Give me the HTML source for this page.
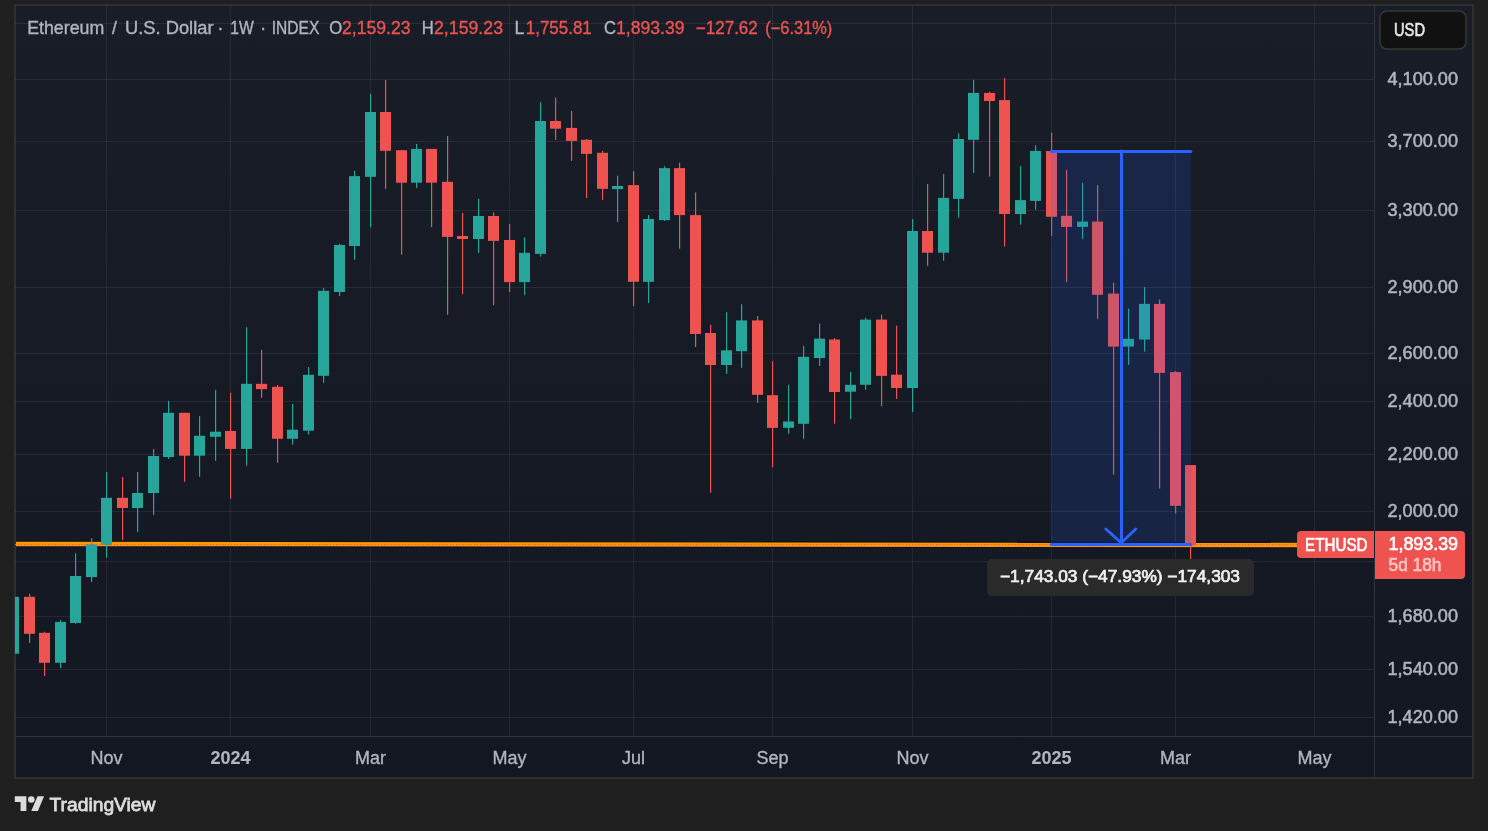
<!DOCTYPE html>
<html><head><meta charset="utf-8"><style>
html,body{margin:0;padding:0;background:#1f1f1f;width:1488px;height:831px;overflow:hidden}
svg{display:block;will-change:transform}
</style></head><body>
<svg width="1488" height="831" viewBox="0 0 1488 831">
<rect x="0" y="0" width="1488" height="831" fill="#1f1f1f"/>
<rect x="14" y="4" width="1460" height="775" fill="#2f2f2f"/>
<linearGradient id="bgg" x1="0" y1="0" x2="0" y2="1"><stop offset="0" stop-color="#191d28"/><stop offset="1" stop-color="#131722"/></linearGradient>
<rect x="16" y="6" width="1456" height="771" fill="url(#bgg)"/>
<rect x="15" y="23" width="1359" height="1" fill="#ffffff" fill-opacity="0.065"/>
<rect x="15" y="79" width="1359" height="1" fill="#ffffff" fill-opacity="0.065"/>
<rect x="15" y="141" width="1359" height="1" fill="#ffffff" fill-opacity="0.065"/>
<rect x="15" y="210" width="1359" height="1" fill="#ffffff" fill-opacity="0.065"/>
<rect x="15" y="287" width="1359" height="1" fill="#ffffff" fill-opacity="0.065"/>
<rect x="15" y="353" width="1359" height="1" fill="#ffffff" fill-opacity="0.065"/>
<rect x="15" y="401" width="1359" height="1" fill="#ffffff" fill-opacity="0.065"/>
<rect x="15" y="454" width="1359" height="1" fill="#ffffff" fill-opacity="0.065"/>
<rect x="15" y="511" width="1359" height="1" fill="#ffffff" fill-opacity="0.065"/>
<rect x="15" y="561" width="1359" height="1" fill="#ffffff" fill-opacity="0.065"/>
<rect x="15" y="616" width="1359" height="1" fill="#ffffff" fill-opacity="0.065"/>
<rect x="15" y="669" width="1359" height="1" fill="#ffffff" fill-opacity="0.065"/>
<rect x="15" y="717" width="1359" height="1" fill="#ffffff" fill-opacity="0.065"/>
<rect x="106" y="6" width="1" height="730" fill="#ffffff" fill-opacity="0.065"/>
<rect x="230" y="6" width="1" height="730" fill="#ffffff" fill-opacity="0.065"/>
<rect x="370" y="6" width="1" height="730" fill="#ffffff" fill-opacity="0.065"/>
<rect x="509" y="6" width="1" height="730" fill="#ffffff" fill-opacity="0.065"/>
<rect x="633" y="6" width="1" height="730" fill="#ffffff" fill-opacity="0.065"/>
<rect x="772" y="6" width="1" height="730" fill="#ffffff" fill-opacity="0.065"/>
<rect x="912" y="6" width="1" height="730" fill="#ffffff" fill-opacity="0.065"/>
<rect x="1051" y="6" width="1" height="730" fill="#ffffff" fill-opacity="0.065"/>
<rect x="1175" y="6" width="1" height="730" fill="#ffffff" fill-opacity="0.065"/>
<rect x="1314" y="6" width="1" height="730" fill="#ffffff" fill-opacity="0.065"/>
<rect x="1374" y="6" width="1" height="771" fill="#30333b"/>
<rect x="16" y="736" width="1456" height="1" fill="#30333b"/>
<line x1="16" y1="544.0" x2="1374" y2="545.1" stroke="#0b1222" stroke-width="6.5"/>
<line x1="16" y1="544.0" x2="1374" y2="545.1" stroke="#ff9800" stroke-width="4.3"/>
<clipPath id="pc"><rect x="15" y="6" width="1359" height="730"/></clipPath>
<g clip-path="url(#pc)">
<rect x="13" y="596.8" width="1.2" height="56.9" fill="#26a69a"/>
<rect x="8" y="596.8" width="11" height="56.9" fill="#26a69a"/>
<rect x="29" y="593.8" width="1.2" height="49.1" fill="#ef5350"/>
<rect x="24" y="596.8" width="11" height="37.0" fill="#ef5350"/>
<rect x="44" y="631.8" width="1.2" height="44.2" fill="#ef5350"/>
<rect x="39" y="632.8" width="11" height="30.0" fill="#ef5350"/>
<rect x="60" y="619.8" width="1.2" height="48.3" fill="#26a69a"/>
<rect x="55" y="621.9" width="11" height="40.9" fill="#26a69a"/>
<rect x="75" y="553.3" width="1.2" height="70.5" fill="#26a69a"/>
<rect x="70" y="576.0" width="11" height="47.0" fill="#26a69a"/>
<rect x="91" y="538.2" width="1.2" height="43.9" fill="#26a69a"/>
<rect x="86" y="544.4" width="11" height="32.7" fill="#26a69a"/>
<rect x="106" y="472.0" width="1.2" height="85.9" fill="#26a69a"/>
<rect x="101" y="497.8" width="11" height="47.2" fill="#26a69a"/>
<rect x="122" y="477.0" width="1.2" height="63.2" fill="#ef5350"/>
<rect x="117" y="497.8" width="11" height="10.2" fill="#ef5350"/>
<rect x="137" y="472.0" width="1.2" height="60.0" fill="#26a69a"/>
<rect x="132" y="493.0" width="11" height="15.0" fill="#26a69a"/>
<rect x="153" y="449.0" width="1.2" height="66.1" fill="#26a69a"/>
<rect x="148" y="456.0" width="11" height="37.0" fill="#26a69a"/>
<rect x="168" y="400.9" width="1.2" height="58.0" fill="#26a69a"/>
<rect x="163" y="412.8" width="11" height="44.2" fill="#26a69a"/>
<rect x="184" y="412.8" width="1.2" height="69.0" fill="#ef5350"/>
<rect x="179" y="412.8" width="11" height="42.9" fill="#ef5350"/>
<rect x="199" y="416.1" width="1.2" height="60.6" fill="#26a69a"/>
<rect x="194" y="435.8" width="11" height="19.9" fill="#26a69a"/>
<rect x="215" y="390.1" width="1.2" height="70.7" fill="#26a69a"/>
<rect x="210" y="431.7" width="11" height="5.1" fill="#26a69a"/>
<rect x="230" y="392.8" width="1.2" height="105.9" fill="#ef5350"/>
<rect x="225" y="431.0" width="11" height="17.9" fill="#ef5350"/>
<rect x="246" y="327.2" width="1.2" height="138.6" fill="#26a69a"/>
<rect x="241" y="383.8" width="11" height="65.1" fill="#26a69a"/>
<rect x="261" y="349.9" width="1.2" height="48.0" fill="#ef5350"/>
<rect x="256" y="383.8" width="11" height="5.3" fill="#ef5350"/>
<rect x="277" y="385.0" width="1.2" height="77.8" fill="#ef5350"/>
<rect x="272" y="386.8" width="11" height="52.0" fill="#ef5350"/>
<rect x="292" y="404.0" width="1.2" height="40.6" fill="#26a69a"/>
<rect x="287" y="429.7" width="11" height="9.1" fill="#26a69a"/>
<rect x="308" y="366.9" width="1.2" height="67.6" fill="#26a69a"/>
<rect x="303" y="374.8" width="11" height="55.9" fill="#26a69a"/>
<rect x="323" y="288.0" width="1.2" height="94.8" fill="#26a69a"/>
<rect x="318" y="290.8" width="11" height="85.0" fill="#26a69a"/>
<rect x="339" y="243.8" width="1.2" height="52.2" fill="#26a69a"/>
<rect x="334" y="245.0" width="11" height="47.0" fill="#26a69a"/>
<rect x="354" y="170.8" width="1.2" height="88.9" fill="#26a69a"/>
<rect x="349" y="176.1" width="11" height="69.9" fill="#26a69a"/>
<rect x="370" y="93.8" width="1.2" height="133.4" fill="#26a69a"/>
<rect x="365" y="112.0" width="11" height="64.8" fill="#26a69a"/>
<rect x="385" y="80.0" width="1.2" height="109.0" fill="#ef5350"/>
<rect x="380" y="112.0" width="11" height="38.8" fill="#ef5350"/>
<rect x="401" y="150.2" width="1.2" height="104.5" fill="#ef5350"/>
<rect x="396" y="150.2" width="11" height="32.5" fill="#ef5350"/>
<rect x="416" y="143.9" width="1.2" height="44.1" fill="#26a69a"/>
<rect x="411" y="148.9" width="11" height="33.8" fill="#26a69a"/>
<rect x="431" y="148.9" width="1.2" height="78.3" fill="#ef5350"/>
<rect x="426" y="148.9" width="11" height="33.8" fill="#ef5350"/>
<rect x="447" y="136.0" width="1.2" height="178.8" fill="#ef5350"/>
<rect x="442" y="181.8" width="11" height="55.1" fill="#ef5350"/>
<rect x="462" y="213.0" width="1.2" height="81.2" fill="#ef5350"/>
<rect x="457" y="236.0" width="11" height="3.0" fill="#ef5350"/>
<rect x="478" y="198.8" width="1.2" height="54.2" fill="#26a69a"/>
<rect x="473" y="216.0" width="11" height="23.0" fill="#26a69a"/>
<rect x="493" y="212.4" width="1.2" height="92.7" fill="#ef5350"/>
<rect x="488" y="216.0" width="11" height="24.9" fill="#ef5350"/>
<rect x="509" y="224.0" width="1.2" height="68.1" fill="#ef5350"/>
<rect x="504" y="240.0" width="11" height="42.1" fill="#ef5350"/>
<rect x="524" y="237.5" width="1.2" height="57.4" fill="#26a69a"/>
<rect x="519" y="252.8" width="11" height="29.3" fill="#26a69a"/>
<rect x="540" y="102.2" width="1.2" height="154.4" fill="#26a69a"/>
<rect x="535" y="121.0" width="11" height="132.9" fill="#26a69a"/>
<rect x="555" y="97.7" width="1.2" height="42.1" fill="#ef5350"/>
<rect x="550" y="121.0" width="11" height="7.7" fill="#ef5350"/>
<rect x="571" y="111.0" width="1.2" height="49.9" fill="#ef5350"/>
<rect x="566" y="127.9" width="11" height="13.0" fill="#ef5350"/>
<rect x="586" y="139.0" width="1.2" height="59.0" fill="#ef5350"/>
<rect x="581" y="139.8" width="11" height="14.1" fill="#ef5350"/>
<rect x="602" y="150.9" width="1.2" height="49.0" fill="#ef5350"/>
<rect x="597" y="152.8" width="11" height="36.0" fill="#ef5350"/>
<rect x="617" y="175.8" width="1.2" height="46.2" fill="#26a69a"/>
<rect x="612" y="186.0" width="11" height="3.1" fill="#26a69a"/>
<rect x="633" y="171.2" width="1.2" height="134.9" fill="#ef5350"/>
<rect x="628" y="185.1" width="11" height="96.7" fill="#ef5350"/>
<rect x="648" y="215.1" width="1.2" height="87.9" fill="#26a69a"/>
<rect x="643" y="219.0" width="11" height="62.8" fill="#26a69a"/>
<rect x="664" y="166.2" width="1.2" height="54.8" fill="#26a69a"/>
<rect x="659" y="168.1" width="11" height="52.0" fill="#26a69a"/>
<rect x="679" y="162.7" width="1.2" height="86.0" fill="#ef5350"/>
<rect x="674" y="168.1" width="11" height="47.0" fill="#ef5350"/>
<rect x="695" y="192.4" width="1.2" height="154.6" fill="#ef5350"/>
<rect x="690" y="215.1" width="11" height="118.9" fill="#ef5350"/>
<rect x="710" y="324.8" width="1.2" height="168.0" fill="#ef5350"/>
<rect x="705" y="333.0" width="11" height="32.0" fill="#ef5350"/>
<rect x="726" y="312.3" width="1.2" height="61.7" fill="#26a69a"/>
<rect x="721" y="350.3" width="11" height="14.7" fill="#26a69a"/>
<rect x="741" y="304.2" width="1.2" height="63.6" fill="#26a69a"/>
<rect x="736" y="320.4" width="11" height="30.8" fill="#26a69a"/>
<rect x="757" y="316.1" width="1.2" height="86.8" fill="#ef5350"/>
<rect x="752" y="320.4" width="11" height="74.4" fill="#ef5350"/>
<rect x="772" y="361.2" width="1.2" height="106.1" fill="#ef5350"/>
<rect x="767" y="395.2" width="11" height="32.7" fill="#ef5350"/>
<rect x="788" y="384.8" width="1.2" height="49.1" fill="#26a69a"/>
<rect x="783" y="421.5" width="11" height="6.3" fill="#26a69a"/>
<rect x="803" y="345.8" width="1.2" height="93.0" fill="#26a69a"/>
<rect x="798" y="356.8" width="11" height="67.0" fill="#26a69a"/>
<rect x="819" y="323.6" width="1.2" height="42.4" fill="#26a69a"/>
<rect x="814" y="338.6" width="11" height="19.4" fill="#26a69a"/>
<rect x="834" y="338.0" width="1.2" height="85.8" fill="#ef5350"/>
<rect x="829" y="339.5" width="11" height="52.5" fill="#ef5350"/>
<rect x="850" y="371.8" width="1.2" height="47.3" fill="#26a69a"/>
<rect x="845" y="384.8" width="11" height="6.9" fill="#26a69a"/>
<rect x="865" y="317.8" width="1.2" height="71.9" fill="#26a69a"/>
<rect x="860" y="319.6" width="11" height="65.2" fill="#26a69a"/>
<rect x="881" y="314.7" width="1.2" height="91.5" fill="#ef5350"/>
<rect x="876" y="319.6" width="11" height="56.3" fill="#ef5350"/>
<rect x="896" y="325.6" width="1.2" height="73.3" fill="#ef5350"/>
<rect x="891" y="374.7" width="11" height="13.3" fill="#ef5350"/>
<rect x="912" y="219.1" width="1.2" height="193.1" fill="#26a69a"/>
<rect x="907" y="231.0" width="11" height="157.0" fill="#26a69a"/>
<rect x="927" y="184.0" width="1.2" height="81.8" fill="#ef5350"/>
<rect x="922" y="231.0" width="11" height="21.7" fill="#ef5350"/>
<rect x="943" y="174.1" width="1.2" height="86.7" fill="#26a69a"/>
<rect x="938" y="197.9" width="11" height="54.8" fill="#26a69a"/>
<rect x="958" y="133.2" width="1.2" height="84.6" fill="#26a69a"/>
<rect x="953" y="139.0" width="11" height="59.9" fill="#26a69a"/>
<rect x="973" y="79.8" width="1.2" height="93.3" fill="#26a69a"/>
<rect x="968" y="92.9" width="11" height="46.9" fill="#26a69a"/>
<rect x="989" y="91.8" width="1.2" height="84.8" fill="#ef5350"/>
<rect x="984" y="92.9" width="11" height="8.1" fill="#ef5350"/>
<rect x="1004" y="78.1" width="1.2" height="168.3" fill="#ef5350"/>
<rect x="999" y="100.1" width="11" height="113.9" fill="#ef5350"/>
<rect x="1020" y="166.0" width="1.2" height="58.6" fill="#26a69a"/>
<rect x="1015" y="200.1" width="11" height="13.9" fill="#26a69a"/>
<rect x="1035" y="145.3" width="1.2" height="64.4" fill="#26a69a"/>
<rect x="1030" y="150.9" width="11" height="50.0" fill="#26a69a"/>
<rect x="1051" y="132.7" width="1.2" height="103.3" fill="#ef5350"/>
<rect x="1046" y="151.0" width="11" height="65.8" fill="#ef5350"/>
<rect x="1066" y="169.8" width="1.2" height="112.2" fill="#ef5350"/>
<rect x="1061" y="215.8" width="11" height="11.1" fill="#ef5350"/>
<rect x="1082" y="182.9" width="1.2" height="56.1" fill="#26a69a"/>
<rect x="1077" y="221.6" width="11" height="5.3" fill="#26a69a"/>
<rect x="1097" y="185.0" width="1.2" height="133.8" fill="#ef5350"/>
<rect x="1092" y="221.6" width="11" height="73.2" fill="#ef5350"/>
<rect x="1113" y="282.7" width="1.2" height="191.8" fill="#ef5350"/>
<rect x="1108" y="293.6" width="11" height="53.0" fill="#ef5350"/>
<rect x="1128" y="308.7" width="1.2" height="56.2" fill="#26a69a"/>
<rect x="1123" y="338.8" width="11" height="7.8" fill="#26a69a"/>
<rect x="1144" y="287.0" width="1.2" height="64.6" fill="#26a69a"/>
<rect x="1139" y="303.9" width="11" height="35.7" fill="#26a69a"/>
<rect x="1159" y="299.6" width="1.2" height="189.0" fill="#ef5350"/>
<rect x="1154" y="303.9" width="11" height="69.0" fill="#ef5350"/>
<rect x="1175" y="371.0" width="1.2" height="142.6" fill="#ef5350"/>
<rect x="1170" y="372.1" width="11" height="133.7" fill="#ef5350"/>
<rect x="1190" y="465.1" width="1.2" height="124.5" fill="#ef5350"/>
<rect x="1185" y="465.1" width="11" height="80.5" fill="#ef5350"/>
</g>
<rect x="1051" y="151" width="140" height="392" fill="#2962ff" fill-opacity="0.15"/>
<line x1="15" y1="544.5" x2="1374" y2="544.5" stroke="#f05060" stroke-width="1.2" stroke-dasharray="1.2 1.8"/>
<line x1="1051" y1="151.5" x2="1190.8" y2="151.5" stroke="#2962ff" stroke-width="3" stroke-linecap="round"/>
<line x1="1051" y1="544.5" x2="1190.8" y2="544.5" stroke="#2962ff" stroke-width="3" stroke-linecap="round"/>
<line x1="1121.5" y1="151" x2="1121.5" y2="543" stroke="#2962ff" stroke-width="3" stroke-linecap="round"/>
<path d="M1105.8 529 L1121.3 542.8 L1135.8 529" fill="none" stroke="#2962ff" stroke-width="2.9" stroke-linecap="round" stroke-linejoin="round"/>
<rect x="987" y="559" width="267" height="37" rx="5" fill="#2a2a2a"/>
<text x="1000" y="582.2" font-family="Liberation Sans, sans-serif" font-size="16.5" font-weight="normal" fill="#f0f0f0" text-anchor="start" stroke="#f0f0f0" stroke-width="0.7" textLength="240" lengthAdjust="spacingAndGlyphs">−1,743.03 (−47.93%) −174,303</text>
<text x="1387.5" y="84.6" font-family="Liberation Sans, sans-serif" font-size="18" font-weight="normal" fill="#b2b5be" text-anchor="start" stroke="#b2b5be" stroke-width="0.5" textLength="70.5" lengthAdjust="spacingAndGlyphs">4,100.00</text>
<text x="1387.5" y="146.6" font-family="Liberation Sans, sans-serif" font-size="18" font-weight="normal" fill="#b2b5be" text-anchor="start" stroke="#b2b5be" stroke-width="0.5" textLength="70.5" lengthAdjust="spacingAndGlyphs">3,700.00</text>
<text x="1387.5" y="215.6" font-family="Liberation Sans, sans-serif" font-size="18" font-weight="normal" fill="#b2b5be" text-anchor="start" stroke="#b2b5be" stroke-width="0.5" textLength="70.5" lengthAdjust="spacingAndGlyphs">3,300.00</text>
<text x="1387.5" y="292.6" font-family="Liberation Sans, sans-serif" font-size="18" font-weight="normal" fill="#b2b5be" text-anchor="start" stroke="#b2b5be" stroke-width="0.5" textLength="70.5" lengthAdjust="spacingAndGlyphs">2,900.00</text>
<text x="1387.5" y="358.6" font-family="Liberation Sans, sans-serif" font-size="18" font-weight="normal" fill="#b2b5be" text-anchor="start" stroke="#b2b5be" stroke-width="0.5" textLength="70.5" lengthAdjust="spacingAndGlyphs">2,600.00</text>
<text x="1387.5" y="406.6" font-family="Liberation Sans, sans-serif" font-size="18" font-weight="normal" fill="#b2b5be" text-anchor="start" stroke="#b2b5be" stroke-width="0.5" textLength="70.5" lengthAdjust="spacingAndGlyphs">2,400.00</text>
<text x="1387.5" y="459.6" font-family="Liberation Sans, sans-serif" font-size="18" font-weight="normal" fill="#b2b5be" text-anchor="start" stroke="#b2b5be" stroke-width="0.5" textLength="70.5" lengthAdjust="spacingAndGlyphs">2,200.00</text>
<text x="1387.5" y="516.6" font-family="Liberation Sans, sans-serif" font-size="18" font-weight="normal" fill="#b2b5be" text-anchor="start" stroke="#b2b5be" stroke-width="0.5" textLength="70.5" lengthAdjust="spacingAndGlyphs">2,000.00</text>
<text x="1387.5" y="621.6" font-family="Liberation Sans, sans-serif" font-size="18" font-weight="normal" fill="#b2b5be" text-anchor="start" stroke="#b2b5be" stroke-width="0.5" textLength="70.5" lengthAdjust="spacingAndGlyphs">1,680.00</text>
<text x="1387.5" y="674.6" font-family="Liberation Sans, sans-serif" font-size="18" font-weight="normal" fill="#b2b5be" text-anchor="start" stroke="#b2b5be" stroke-width="0.5" textLength="70.5" lengthAdjust="spacingAndGlyphs">1,540.00</text>
<text x="1387.5" y="722.6" font-family="Liberation Sans, sans-serif" font-size="18" font-weight="normal" fill="#b2b5be" text-anchor="start" stroke="#b2b5be" stroke-width="0.5" textLength="70.5" lengthAdjust="spacingAndGlyphs">1,420.00</text>
<rect x="1380" y="11" width="86" height="38" rx="7" fill="#111111" stroke="#363636" stroke-width="1.5"/>
<text x="1394" y="36" font-family="Liberation Sans, sans-serif" font-size="17.5" font-weight="normal" fill="#e8e8e8" text-anchor="start" stroke="#e8e8e8" stroke-width="0.6" textLength="31" lengthAdjust="spacingAndGlyphs">USD</text>
<path d="M1301 531 H1374 V558 H1301 Q1297 558 1297 554 V535 Q1297 531 1301 531 Z" fill="#ef5350"/>
<rect x="1374" y="531" width="1" height="27" fill="#1a1d26"/>
<path d="M1375 531 H1461 Q1465 531 1465 535 V575 Q1465 579 1461 579 H1375 Z" fill="#ef5350"/>
<text x="1305" y="550.6" font-family="Liberation Sans, sans-serif" font-size="17.5" font-weight="normal" fill="#ffffff" text-anchor="start" stroke="#ffffff" stroke-width="0.65" textLength="62.5" lengthAdjust="spacingAndGlyphs">ETHUSD</text>
<text x="1388.5" y="550" font-family="Liberation Sans, sans-serif" font-size="18" font-weight="normal" fill="#ffffff" text-anchor="start" stroke="#ffffff" stroke-width="0.65" textLength="69.5" lengthAdjust="spacingAndGlyphs">1,893.39</text>
<text x="1388.5" y="570.7" font-family="Liberation Sans, sans-serif" font-size="17.5" font-weight="normal" fill="#fac3c2" text-anchor="start" stroke="#fac3c2" stroke-width="0.6" textLength="53" lengthAdjust="spacingAndGlyphs">5d 18h</text>
<text x="106.5" y="764.3" font-family="Liberation Sans, sans-serif" font-size="18" font-weight="normal" fill="#b2b5be" text-anchor="middle" stroke="#b2b5be" stroke-width="0.35">Nov</text>
<text x="230.5" y="764.3" font-family="Liberation Sans, sans-serif" font-size="18" font-weight="bold" fill="#b2b5be" text-anchor="middle" stroke="#b2b5be" stroke-width="0.1">2024</text>
<text x="370.5" y="764.3" font-family="Liberation Sans, sans-serif" font-size="18" font-weight="normal" fill="#b2b5be" text-anchor="middle" stroke="#b2b5be" stroke-width="0.35">Mar</text>
<text x="509.5" y="764.3" font-family="Liberation Sans, sans-serif" font-size="18" font-weight="normal" fill="#b2b5be" text-anchor="middle" stroke="#b2b5be" stroke-width="0.35">May</text>
<text x="633.5" y="764.3" font-family="Liberation Sans, sans-serif" font-size="18" font-weight="normal" fill="#b2b5be" text-anchor="middle" stroke="#b2b5be" stroke-width="0.35">Jul</text>
<text x="772.5" y="764.3" font-family="Liberation Sans, sans-serif" font-size="18" font-weight="normal" fill="#b2b5be" text-anchor="middle" stroke="#b2b5be" stroke-width="0.35">Sep</text>
<text x="912.5" y="764.3" font-family="Liberation Sans, sans-serif" font-size="18" font-weight="normal" fill="#b2b5be" text-anchor="middle" stroke="#b2b5be" stroke-width="0.35">Nov</text>
<text x="1051.5" y="764.3" font-family="Liberation Sans, sans-serif" font-size="18" font-weight="bold" fill="#b2b5be" text-anchor="middle" stroke="#b2b5be" stroke-width="0.1">2025</text>
<text x="1175.5" y="764.3" font-family="Liberation Sans, sans-serif" font-size="18" font-weight="normal" fill="#b2b5be" text-anchor="middle" stroke="#b2b5be" stroke-width="0.35">Mar</text>
<text x="1314.5" y="764.3" font-family="Liberation Sans, sans-serif" font-size="18" font-weight="normal" fill="#b2b5be" text-anchor="middle" stroke="#b2b5be" stroke-width="0.35">May</text>
<text x="27.2" y="33.8" font-family="Liberation Sans, sans-serif" font-size="17.5" fill="#b2b5be" stroke="#b2b5be" stroke-width="0.35" textLength="77" lengthAdjust="spacingAndGlyphs">Ethereum</text>
<text x="112" y="33.8" font-family="Liberation Sans, sans-serif" font-size="17.5" fill="#b2b5be" stroke="#b2b5be" stroke-width="0.35">/</text>
<text x="125" y="33.8" font-family="Liberation Sans, sans-serif" font-size="17.5" fill="#b2b5be" stroke="#b2b5be" stroke-width="0.35" textLength="88.5" lengthAdjust="spacingAndGlyphs">U.S. Dollar</text>
<text x="217.6" y="33.8" font-family="Liberation Sans, sans-serif" font-size="17.5" fill="#b2b5be" stroke="#b2b5be" stroke-width="0.35">·</text>
<text x="230.2" y="33.8" font-family="Liberation Sans, sans-serif" font-size="17.5" fill="#b2b5be" stroke="#b2b5be" stroke-width="0.35" textLength="23.5" lengthAdjust="spacingAndGlyphs">1W</text>
<text x="260.2" y="33.8" font-family="Liberation Sans, sans-serif" font-size="17.5" fill="#b2b5be" stroke="#b2b5be" stroke-width="0.35">·</text>
<text x="271.8" y="33.8" font-family="Liberation Sans, sans-serif" font-size="17.5" fill="#b2b5be" stroke="#b2b5be" stroke-width="0.35" textLength="47.5" lengthAdjust="spacingAndGlyphs">INDEX</text>
<text x="329.2" y="33.8" font-family="Liberation Sans, sans-serif" font-size="17.5" fill="#b2b5be" stroke="#b2b5be" stroke-width="0.35" textLength="13" lengthAdjust="spacingAndGlyphs">O</text>
<text x="342" y="33.8" font-family="Liberation Sans, sans-serif" font-size="17.5" fill="#ef5350" stroke="#ef5350" stroke-width="0.35" textLength="68.5" lengthAdjust="spacingAndGlyphs">2,159.23</text>
<text x="421.8" y="33.8" font-family="Liberation Sans, sans-serif" font-size="17.5" fill="#b2b5be" stroke="#b2b5be" stroke-width="0.35" textLength="12" lengthAdjust="spacingAndGlyphs">H</text>
<text x="434" y="33.8" font-family="Liberation Sans, sans-serif" font-size="17.5" fill="#ef5350" stroke="#ef5350" stroke-width="0.35" textLength="69" lengthAdjust="spacingAndGlyphs">2,159.23</text>
<text x="514.5" y="33.8" font-family="Liberation Sans, sans-serif" font-size="17.5" fill="#b2b5be" stroke="#b2b5be" stroke-width="0.35" textLength="10" lengthAdjust="spacingAndGlyphs">L</text>
<text x="525.8" y="33.8" font-family="Liberation Sans, sans-serif" font-size="17.5" fill="#ef5350" stroke="#ef5350" stroke-width="0.35" textLength="66" lengthAdjust="spacingAndGlyphs">1,755.81</text>
<text x="604" y="33.8" font-family="Liberation Sans, sans-serif" font-size="17.5" fill="#b2b5be" stroke="#b2b5be" stroke-width="0.35" textLength="12" lengthAdjust="spacingAndGlyphs">C</text>
<text x="616" y="33.8" font-family="Liberation Sans, sans-serif" font-size="17.5" fill="#ef5350" stroke="#ef5350" stroke-width="0.35" textLength="68.5" lengthAdjust="spacingAndGlyphs">1,893.39</text>
<text x="695.8" y="33.8" font-family="Liberation Sans, sans-serif" font-size="17.5" fill="#ef5350" stroke="#ef5350" stroke-width="0.35" textLength="62" lengthAdjust="spacingAndGlyphs">−127.62</text>
<text x="765.3" y="33.8" font-family="Liberation Sans, sans-serif" font-size="17.5" fill="#ef5350" stroke="#ef5350" stroke-width="0.35" textLength="67" lengthAdjust="spacingAndGlyphs">(−6.31%)</text>
<g transform="translate(14.8 792.9) scale(0.825)" fill="#dcdcdc"><path d="M14 22H7V11H0V4h14v18zM28 22h-8l7.5-18h8L28 22z"/><circle cx="20" cy="8" r="4"/></g>
<text x="49.5" y="810.7" font-family="Liberation Sans, sans-serif" font-size="18.9" font-weight="normal" fill="#dcdcdc" text-anchor="start" stroke="#dcdcdc" stroke-width="0.8" textLength="106" lengthAdjust="spacingAndGlyphs">TradingView</text>
</svg>
</body></html>
